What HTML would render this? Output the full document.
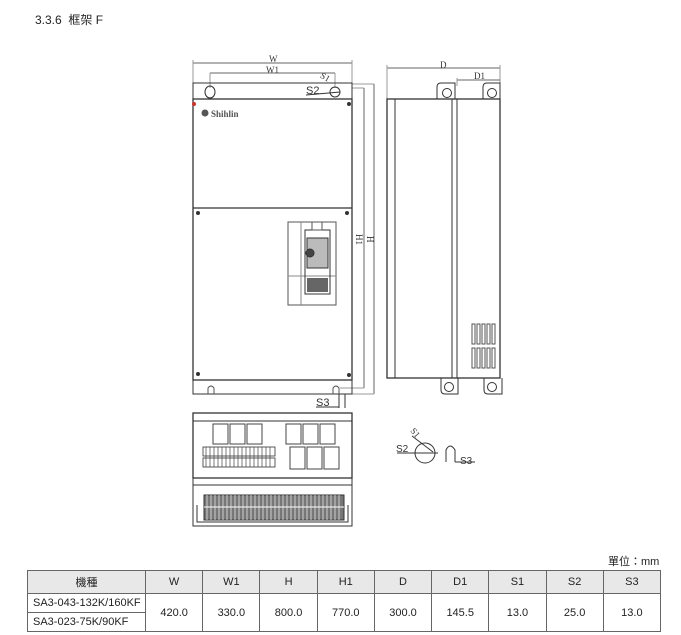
<!DOCTYPE html>
<html><head><meta charset="utf-8"><style>
body{margin:0;background:#fff;width:681px;height:635px;overflow:hidden;font-family:"Liberation Sans","Noto Sans CJK TC",sans-serif;}
.t{position:absolute;left:35px;top:11px;font-size:12px;color:#222;}
table{position:absolute;left:27px;top:570px;border-collapse:collapse;font-size:11px;color:#222;table-layout:fixed;width:634px;}
td{border:1px solid #666;text-align:center;padding:0;overflow:hidden;white-space:nowrap;}
tr.h td{background:#e8e8e8;height:22px;}
tr.r td{height:18px;}
.u{position:absolute;left:608px;top:553px;font-size:11px;color:#222;}
</style></head><body>
<div class="t">3.3.6&nbsp; 框架 F</div>
<svg width="681" height="560" style="position:absolute;left:0;top:0" font-family="Liberation Serif,serif" fill="none" stroke="#333" stroke-width="1">
<line x1="193" y1="63" x2="352" y2="63" stroke="#666"/>
<line x1="193" y1="60" x2="193" y2="86" stroke="#999"/>
<line x1="352" y1="60" x2="352" y2="86" stroke="#999"/>
<line x1="210" y1="73" x2="335" y2="73" stroke="#666"/>
<line x1="210" y1="73" x2="210" y2="88" stroke="#999"/>
<line x1="335" y1="73" x2="335" y2="88" stroke="#999"/>
<text x="269" y="62" font-size="9" fill="#333" stroke="none">W</text>
<text x="266" y="73" font-size="9" fill="#333" stroke="none">W1</text>
<text x="320" y="80" font-size="9" fill="#333" stroke="none" transform="rotate(30 325 78)">S1</text>
<text x="306" y="94" font-size="11" fill="#333" stroke="none" font-family="Liberation Sans">S2</text>
<line x1="306" y1="95" x2="340" y2="92" stroke="#333"/>
<line x1="352" y1="88" x2="364" y2="88" stroke="#999"/>
<line x1="364" y1="88" x2="364" y2="388" stroke="#666"/>
<line x1="340" y1="388" x2="364" y2="388" stroke="#999"/>
<line x1="352" y1="84" x2="374" y2="84" stroke="#999"/>
<line x1="374" y1="84" x2="374" y2="394" stroke="#666"/>
<line x1="352" y1="394" x2="374" y2="394" stroke="#999"/>
<text x="0" y="0" font-size="9" fill="#333" stroke="none" transform="translate(356 234) rotate(90)">H1</text>
<text x="0" y="0" font-size="9" fill="#333" stroke="none" transform="translate(367 236) rotate(90)">H</text>
<rect x="193" y="83" width="159" height="16"/>
<ellipse cx="210" cy="92" rx="5" ry="6"/>
<circle cx="335" cy="92" r="5"/>
<rect x="193" y="99" width="159" height="281" stroke-width="1.3"/>
<line x1="193" y1="208" x2="352" y2="208" stroke-width="1.3"/>
<circle cx="194" cy="104" r="2" fill="#c33" stroke="none"/>
<circle cx="349" cy="104" r="1.5" fill="#333"/>
<circle cx="198" cy="213" r="1.5" fill="#333"/>
<circle cx="347" cy="213" r="1.5" fill="#333"/>
<circle cx="198" cy="374" r="1.5" fill="#333"/>
<circle cx="349" cy="375" r="1.5" fill="#333"/>
<circle cx="205" cy="113" r="3.5" fill="#555" stroke="none"/>
<text x="211" y="117" font-size="9" font-weight="bold" fill="#555" stroke="none">Shihlin</text>
<rect x="193" y="380" width="159" height="14"/>
<path d="M208 394 v-6 q3-4 6 0 v6 M333 394 v-6 q3-4 6 0 v6" stroke="#555"/>
<line x1="339" y1="394" x2="339" y2="408"/>
<line x1="345" y1="394" x2="345" y2="408"/>
<text x="316" y="406" font-size="11" fill="#333" stroke="none" font-family="Liberation Sans">S3</text>
<line x1="316" y1="407" x2="339" y2="407"/>
<rect x="288" y="222" width="48" height="83" stroke="#555"/>
<line x1="301" y1="222" x2="301" y2="305" stroke="#888"/>
<line x1="288" y1="276" x2="336" y2="276" stroke="#888"/>
<rect x="305" y="230" width="25" height="64" stroke="#333"/>
<rect x="307" y="238" width="21" height="30" fill="#bbb" stroke="#333"/>
<circle cx="310" cy="253" r="4" fill="#444"/>
<rect x="307" y="278" width="21" height="14" fill="#666" stroke="none"/>
<rect x="312" y="222" width="10" height="8" stroke="#555"/>
<line x1="387" y1="68" x2="500" y2="68" stroke="#666"/>
<line x1="387" y1="65" x2="387" y2="99" stroke="#999"/>
<line x1="500" y1="65" x2="500" y2="86" stroke="#999"/>
<line x1="457" y1="80" x2="500" y2="80" stroke="#666"/>
<line x1="457" y1="78" x2="457" y2="86" stroke="#999"/>
<text x="440" y="68" font-size="9" fill="#333" stroke="none">D</text>
<text x="474" y="79" font-size="9" fill="#333" stroke="none">D1</text>
<path d="M437 99 v-12 q0-4 4-4 h14 v16 M483 99 v-12 q0-4 4-4 h13 v16"/>
<circle cx="447" cy="93" r="4.5"/><circle cx="492" cy="93" r="4.5"/>
<rect x="387" y="99" width="113" height="279" stroke-width="1.3"/>
<line x1="395" y1="99" x2="395" y2="378"/>
<line x1="452" y1="99" x2="452" y2="378"/>
<line x1="457" y1="99" x2="457" y2="378"/>
<path d="M441 378 v12 q0 4 4 4 h13 v-16 M484 378 v12 q0 4 4 4 h14 v-16"/>
<circle cx="449" cy="387" r="4.5"/><circle cx="492" cy="387" r="4.5"/>
<g stroke="#555">
<rect x="472" y="324" width="3" height="20"/><rect x="477" y="324" width="3" height="20"/><rect x="482" y="324" width="3" height="20"/><rect x="487" y="324" width="3" height="20"/><rect x="492" y="324" width="3" height="20"/>
<rect x="472" y="348" width="3" height="20"/><rect x="477" y="348" width="3" height="20"/><rect x="482" y="348" width="3" height="20"/><rect x="487" y="348" width="3" height="20"/><rect x="492" y="348" width="3" height="20"/>
</g>
<rect x="193" y="413" width="159" height="65" stroke-width="1.3"/>
<line x1="193" y1="421" x2="352" y2="421"/>
<rect x="193" y="478" width="159" height="7"/>
<path d="M193 485 v41 h159 v-41 M197 505 v17 h151 v-17" />
<g stroke="#444">
<rect x="213" y="424" width="15" height="20"/><rect x="230" y="424" width="15" height="20"/><rect x="247" y="424" width="15" height="20"/>
<rect x="286" y="424" width="15" height="20"/><rect x="303" y="424" width="15" height="20"/><rect x="320" y="424" width="15" height="20"/>
<rect x="290" y="447" width="15" height="22"/><rect x="307" y="447" width="15" height="22"/><rect x="324" y="447" width="15" height="22"/>
</g>
<g fill="#fff" stroke="#333" stroke-width="0.8">
<rect x="203" y="447" width="72" height="9"/><rect x="203" y="458" width="72" height="9"/>
</g>
<g stroke="#444" stroke-width="0.7">
<path d="M206 447v20M210 447v20M214 447v20M218 447v20M222 447v20M226 447v20M230 447v20M234 447v20M238 447v20M242 447v20M246 447v20M250 447v20M254 447v20M258 447v20M262 447v20M266 447v20M270 447v20"/>
</g>
<rect x="204" y="495" width="140" height="25" fill="#777" stroke="#333"/>
<g stroke="#ccc" stroke-width="1">
<path d="M207 495v25M211 495v25M215 495v25M219 495v25M223 495v25M227 495v25M231 495v25M235 495v25M239 495v25M243 495v25M247 495v25M251 495v25M255 495v25M259 495v25M263 495v25M267 495v25M271 495v25M275 495v25M279 495v25M283 495v25M287 495v25M291 495v25M295 495v25M299 495v25M303 495v25M307 495v25M311 495v25M315 495v25M319 495v25M323 495v25M327 495v25M331 495v25M335 495v25M339 495v25"/>
<line x1="204" y1="507" x2="344" y2="507" stroke="#fff"/>
</g>
<circle cx="425" cy="453" r="10"/>
<line x1="412" y1="436" x2="433" y2="452"/>
<line x1="397" y1="453" x2="438" y2="453"/>
<text x="396" y="452" font-size="10" fill="#333" stroke="none" font-family="Liberation Sans">S2</text>
<text x="0" y="0" font-size="9" fill="#333" stroke="none" transform="translate(410 431) rotate(50)">S1</text>
<path d="M446 462 v-12 q4-8 9 0 v12"/>
<line x1="455" y1="462" x2="475" y2="462"/>
<text x="460" y="464" font-size="10" fill="#333" stroke="none" font-family="Liberation Sans">S3</text>
</svg>
<div class="u">單位：mm</div>
<table>
<colgroup><col style="width:118px"><col><col><col><col><col><col><col><col><col></colgroup>
<tr class="h"><td>機種</td><td>W</td><td>W1</td><td>H</td><td>H1</td><td>D</td><td>D1</td><td>S1</td><td>S2</td><td>S3</td></tr>
<tr class="r"><td style="text-align:left;padding-left:5px">SA3-043-132K/160KF</td><td rowspan="2">420.0</td><td rowspan="2">330.0</td><td rowspan="2">800.0</td><td rowspan="2">770.0</td><td rowspan="2">300.0</td><td rowspan="2">145.5</td><td rowspan="2">13.0</td><td rowspan="2">25.0</td><td rowspan="2">13.0</td></tr>
<tr class="r"><td style="text-align:left;padding-left:5px">SA3-023-75K/90KF</td></tr>
</table>
</body></html>
